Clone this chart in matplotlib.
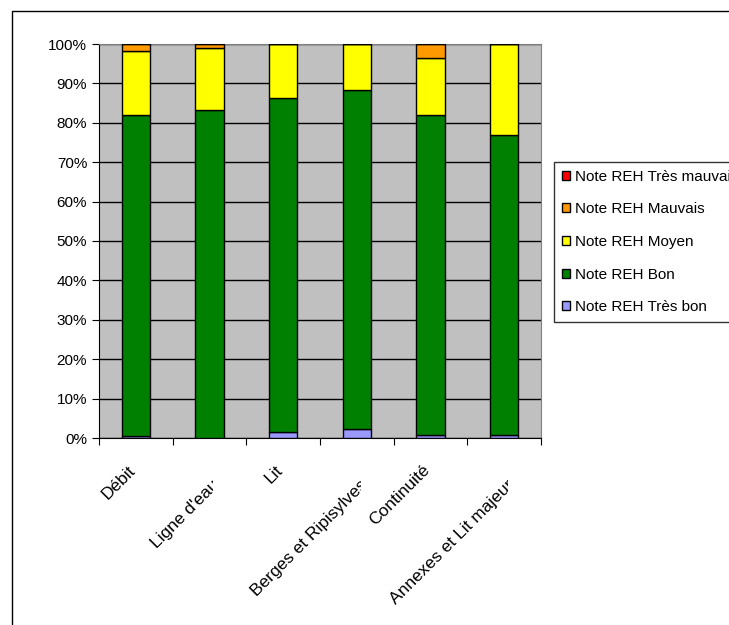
import matplotlib.pyplot as plt
import numpy as np
from matplotlib.patches import Rectangle
from matplotlib.transforms import Bbox, TransformedBbox, ScaledTranslation

plt.rcParams['font.family'] = ['Liberation Sans', 'DejaVu Sans']

categories = ['Débit', "Ligne d'eau", 'Lit', 'Berges et Ripisylves', 'Continuité', 'Annexes et Lit majeur']
tres_bon = [0.4, 0.0, 1.4, 2.2, 0.8, 0.8]
bon = [81.6, 83.2, 85.0, 86.1, 81.2, 76.2]
moyen = [16.3, 15.8, 13.6, 11.7, 14.4, 23.0]
mauvais = [1.7, 1.0, 0.0, 0.0, 3.6, 0.0]
tres_mauvais = [0.0, 0.0, 0.0, 0.0, 0.0, 0.0]

series = [
    ('Note REH Très bon', tres_bon, '#9999FF'),
    ('Note REH Bon', bon, '#008000'),
    ('Note REH Moyen', moyen, '#FFFF00'),
    ('Note REH Mauvais', mauvais, '#FF9900'),
    ('Note REH Très mauvais', tres_mauvais, '#FF0000'),
]

W, H = 729, 625
fig = plt.figure(figsize=(W / 100, H / 100), dpi=100)
ax = fig.add_axes([99 / W, 1 - 438 / H, (541 - 99) / W, (438 - 44) / H])
ax.set_facecolor('#C0C0C0')

x = np.arange(len(categories))
total = np.sum([s[1] for s in series], axis=0)
bottom = np.zeros(len(categories))
handles = []
for label, vals, color in series:
    pct = np.array(vals) / total * 100
    b = ax.bar(x, pct, 0.385, bottom=bottom, color=color, edgecolor='black',
               linewidth=1, label=label, zorder=3)
    handles.append(b)
    bottom += pct

ax.set_xlim(-0.5, len(categories) - 0.5)
ax.set_ylim(0, 100)
ax.set_yticks(np.arange(0, 101, 10))
ax.set_yticklabels([f'{v}%' for v in range(0, 101, 10)], fontsize=11)
ax.yaxis.grid(True, color='black', linewidth=1, zorder=1)
ax.set_axisbelow(True)

# ticks between categories, labels drawn separately
ax.set_xticks(np.arange(-0.5, len(categories)))
ax.set_xticklabels([])
ax.tick_params(axis='x', length=5, direction='out')
ax.tick_params(axis='y', length=5, direction='out')

for sp in ['top', 'right']:
    ax.spines[sp].set_color('#808080')
ax.spines['left'].set_color('black')
ax.spines['bottom'].set_color('black')

# rotated category labels, long ones pushed down and cut like in Excel
xtrans = ax.get_xaxis_transform()
cat_w = ax.get_position().width * W / len(categories)
for i, cat in enumerate(categories):
    dx, dy = (11, -15) if len(cat) > 10 else (0, 0)
    off = ScaledTranslation(dx / 100, (dy - 33) / 100, fig.dpi_scale_trans)
    t = ax.text(i, 0, cat, transform=xtrans + off, rotation=45,
                rotation_mode='anchor', ha='right', va='baseline', fontsize=12.5)
    t.set_clip_on(True)
    t.set_clip_box(TransformedBbox(Bbox([[-10, -10], [i + 4 / cat_w, 10]]), xtrans))

leg = fig.legend(handles=handles[::-1], loc='upper left',
                 bbox_to_anchor=(554 / W, 1 - 162 / H), fontsize=11,
                 frameon=True, fancybox=False, edgecolor='black',
                 handlelength=0.55, handleheight=0.55, handletextpad=0.3,
                 labelspacing=1.22, borderpad=0.5, borderaxespad=0)
leg.get_frame().set_linewidth(1)

fig.add_artist(Rectangle((12 / W, -0.1), 2, 1 - 11 / H + 0.1,
                         transform=fig.transFigure, fill=False,
                         edgecolor='black', linewidth=1))

plt.savefig('out.png', dpi=100)
